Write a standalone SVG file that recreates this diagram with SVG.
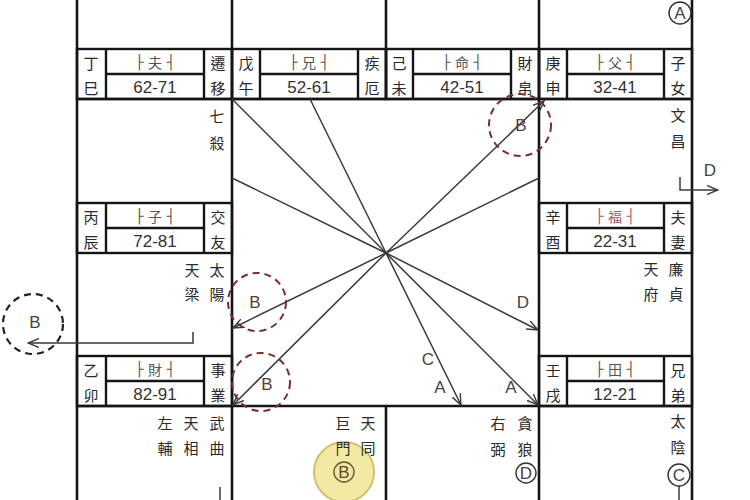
<svg xmlns="http://www.w3.org/2000/svg" width="750" height="500" viewBox="0 0 750 500">
<style>
.g{stroke:#151515;stroke-width:2.6;fill:none}
.b{stroke:#151515;stroke-width:2.4;fill:none}
.cj{font-family:"Noto Sans CJK TC","Noto Sans CJK SC",sans-serif;font-size:15px;fill:#2a2a2a;text-anchor:middle;dominant-baseline:central}
.br{font-family:"DejaVu Sans","Noto Sans CJK TC",sans-serif;font-size:14px;fill:#555;text-anchor:middle;dominant-baseline:central}
.bc{font-family:"Noto Sans CJK TC","Noto Sans CJK SC",sans-serif}
.nm{font-family:"Liberation Sans",sans-serif;font-size:17px;fill:#333;text-anchor:middle;dominant-baseline:central}
.lb{font-family:"Liberation Sans",sans-serif;font-size:17px;fill:#444;text-anchor:middle;dominant-baseline:central}
.ln{stroke:#3a3a3a;stroke-width:1.5;fill:none}
.dc{stroke:#7a3030;stroke-width:2;stroke-dasharray:7 5;fill:none}
.dk{stroke:#222;stroke-width:2.2;stroke-dasharray:7 5;fill:none}
.ci{stroke:#333;stroke-width:1.4;fill:none}
</style>
<defs>
<marker id="ah" markerWidth="12" markerHeight="10" refX="11" refY="5" orient="auto" markerUnits="userSpaceOnUse">
<path d="M0,0.5 L11,5 L0,9.5" fill="none" stroke="#3a3a3a" stroke-width="1.4"/>
</marker>
</defs>
<rect width="750" height="500" fill="#ffffff"/>

<g id="grid">
<line class="g" x1="77" y1="0" x2="77" y2="500"/>
<line class="g" x1="232" y1="0" x2="232" y2="500"/>
<line class="g" x1="539" y1="0" x2="539" y2="500"/>
<line class="g" x1="692" y1="0" x2="692" y2="500"/>
<line class="g" x1="386" y1="0" x2="386" y2="99"/>
<line class="g" x1="386" y1="406" x2="386" y2="500"/>
<line class="g" x1="77" y1="99" x2="692" y2="99"/>
<line class="g" x1="77" y1="406" x2="692" y2="406"/>
</g>

<g id="cell-siyi">
<rect class="b" x="77" y="49" width="155" height="50"/>
<line class="b" x1="106" y1="49" x2="106" y2="99"/><line class="b" x1="204" y1="49" x2="204" y2="99"/><line class="b" x1="106" y1="74" x2="204" y2="74"/>
<text class="cj" x="91" y="62">丁</text><text class="cj" x="91" y="87">巳</text>
<text class="br" x="155" y="62">├ <tspan class="bc">夫</tspan> ┤</text><text class="nm" x="155" y="87">62-71</text>
<text class="cj" x="218" y="62">遷</text><text class="cj" x="218" y="87">移</text>
</g>
<g id="cell-wuwu">
<rect class="b" x="232" y="49" width="154" height="50"/>
<line class="b" x1="260" y1="49" x2="260" y2="99"/><line class="b" x1="358" y1="49" x2="358" y2="99"/><line class="b" x1="260" y1="74" x2="358" y2="74"/>
<text class="cj" x="246" y="62">戊</text><text class="cj" x="246" y="87">午</text>
<text class="br" x="309" y="62">├ <tspan class="bc">兄</tspan> ┤</text><text class="nm" x="309" y="87">52-61</text>
<text class="cj" x="372" y="62">疾</text><text class="cj" x="372" y="87">厄</text>
</g>
<g id="cell-jiwei">
<rect class="b" x="386" y="49" width="153" height="50"/>
<line class="b" x1="413" y1="49" x2="413" y2="99"/><line class="b" x1="511" y1="49" x2="511" y2="99"/><line class="b" x1="413" y1="74" x2="511" y2="74"/>
<text class="cj" x="399" y="62">己</text><text class="cj" x="399" y="87">未</text>
<text class="br" x="462" y="62">├ <tspan class="bc">命</tspan> ┤</text><text class="nm" x="462" y="87">42-51</text>
<text class="cj" x="525" y="62">財</text><text class="cj" x="525" y="87">帛</text>
</g>
<g id="cell-gengshen">
<rect class="b" x="539" y="49" width="153" height="50"/>
<line class="b" x1="567" y1="49" x2="567" y2="99"/><line class="b" x1="664" y1="49" x2="664" y2="99"/><line class="b" x1="567" y1="74" x2="664" y2="74"/>
<text class="cj" x="553" y="62">庚</text><text class="cj" x="553" y="87">申</text>
<text class="br" x="615" y="62">├ <tspan class="bc">父</tspan> ┤</text><text class="nm" x="615" y="87">32-41</text>
<text class="cj" x="678" y="62">子</text><text class="cj" x="678" y="87">女</text>
<circle class="ci" cx="680" cy="13" r="11"/><text class="lb" x="680" y="13" font-size="15">A</text>
<text class="cj" x="678" y="114">文</text><text class="cj" x="678" y="140">昌</text>
</g>
<g id="cell-bingchen">
<text class="cj" x="217" y="115">七</text><text class="cj" x="217" y="142">殺</text>
<rect class="b" x="77" y="203" width="155" height="50"/>
<line class="b" x1="106" y1="203" x2="106" y2="253"/><line class="b" x1="204" y1="203" x2="204" y2="253"/><line class="b" x1="106" y1="228" x2="204" y2="228"/>
<text class="cj" x="91" y="216">丙</text><text class="cj" x="91" y="241">辰</text>
<text class="br" x="155" y="216">├ <tspan class="bc">子</tspan> ┤</text><text class="nm" x="155" y="241">72-81</text>
<text class="cj" x="218" y="216">交</text><text class="cj" x="218" y="241">友</text>
<text class="cj" x="192" y="269">天</text><text class="cj" x="217" y="269">太</text>
<text class="cj" x="192" y="293">梁</text><text class="cj" x="217" y="293">陽</text>
</g>
<g id="cell-xinyou">
<rect class="b" x="539" y="203" width="153" height="50"/>
<line class="b" x1="567" y1="203" x2="567" y2="253"/><line class="b" x1="664" y1="203" x2="664" y2="253"/><line class="b" x1="567" y1="228" x2="664" y2="228"/>
<text class="cj" x="553" y="216">辛</text><text class="cj" x="553" y="241">酉</text>
<text class="br" x="615" y="216" style="fill:#a05a6a">├ <tspan class="bc">福</tspan> ┤</text><text class="nm" x="615" y="241">22-31</text>
<text class="cj" x="678" y="216">夫</text><text class="cj" x="678" y="241">妻</text>
<text class="cj" x="651" y="268">天</text><text class="cj" x="676" y="268">廉</text>
<text class="cj" x="651" y="293">府</text><text class="cj" x="676" y="293">貞</text>
</g>
<g id="cell-yimao">
<rect class="b" x="77" y="356" width="155" height="50"/>
<line class="b" x1="106" y1="356" x2="106" y2="406"/><line class="b" x1="204" y1="356" x2="204" y2="406"/><line class="b" x1="106" y1="381" x2="204" y2="381"/>
<text class="cj" x="91" y="369">乙</text><text class="cj" x="91" y="394">卯</text>
<text class="br" x="155" y="369">├ <tspan class="bc">財</tspan> ┤</text><text class="nm" x="155" y="394">82-91</text>
<text class="cj" x="218" y="369">事</text><text class="cj" x="218" y="394">業</text>
</g>
<g id="cell-renxu">
<rect class="b" x="539" y="356" width="153" height="50"/>
<line class="b" x1="567" y1="356" x2="567" y2="406"/><line class="b" x1="664" y1="356" x2="664" y2="406"/><line class="b" x1="567" y1="381" x2="664" y2="381"/>
<text class="cj" x="553" y="369">壬</text><text class="cj" x="553" y="394">戌</text>
<text class="br" x="615" y="369">├ <tspan class="bc">田</tspan> ┤</text><text class="nm" x="615" y="394">12-21</text>
<text class="cj" x="678" y="369">兄</text><text class="cj" x="678" y="394">弟</text>
<text class="cj" x="678" y="420">太</text><text class="cj" x="678" y="446">陰</text>
<circle class="ci" cx="679" cy="475" r="11"/><text class="lb" x="679" y="475" font-size="15">C</text>
<line class="ln" x1="679" y1="486" x2="679" y2="500"/>
</g>
<g id="cell-yinchou">
<text class="cj" x="165" y="422">左</text><text class="cj" x="191" y="422">天</text><text class="cj" x="217" y="422">武</text>
<text class="cj" x="165" y="447">輔</text><text class="cj" x="191" y="447">相</text><text class="cj" x="217" y="447">曲</text>
<line class="ln" x1="220" y1="487" x2="220" y2="500"/>
</g>
<g id="cell-jiazi">
<circle cx="344" cy="472" r="30" fill="#efe594" fill-opacity="0.85" stroke="#cfc36a" stroke-width="2"/>
<circle cx="344" cy="472" r="10" fill="none" stroke="#6a5a30" stroke-width="1.4"/>
<text class="lb" x="344" y="472" font-size="15" style="fill:#5a4a2a">B</text>
<text class="cj" x="343" y="422">巨</text><text class="cj" x="368" y="422">天</text>
<text class="cj" x="343" y="447">門</text><text class="cj" x="368" y="447">同</text>
</g>
<g id="cell-yihai">
<text class="cj" x="498" y="422">右</text><text class="cj" x="525" y="422">貪</text>
<text class="cj" x="498" y="448">弼</text><text class="cj" x="525" y="448">狼</text>
<circle class="ci" cx="526" cy="473" r="10"/><text class="lb" x="526" y="473" font-size="15">D</text>
</g>

<g id="connectors">
<line class="ln" x1="386" y1="253" x2="232" y2="99"/>
<line class="ln" x1="386" y1="253" x2="310" y2="99"/>
<line class="ln" x1="386" y1="253" x2="232" y2="178"/>
<line class="ln" x1="386" y1="253" x2="539" y2="178"/>
<line class="ln" x1="386" y1="253" x2="544" y2="101" marker-end="url(#ah)"/>
<line class="ln" x1="386" y1="253" x2="233" y2="328" marker-end="url(#ah)"/>
<line class="ln" x1="386" y1="253" x2="233" y2="405" marker-end="url(#ah)"/>
<line class="ln" x1="386" y1="253" x2="538" y2="330" marker-end="url(#ah)"/>
<line class="ln" x1="386" y1="253" x2="538" y2="405" marker-end="url(#ah)"/>
<line class="ln" x1="386" y1="253" x2="461" y2="405" marker-end="url(#ah)"/>
<polyline class="ln" points="193,332 193,343 28,343" marker-end="url(#ah)"/>
<polyline class="ln" points="680,177 680,190 718,190" marker-end="url(#ah)"/>
</g>

<g id="labels">
<circle class="dc" cx="520" cy="125" r="31"/><text class="lb" x="521" y="125" style="fill:#5a3a3a">B</text>
<circle class="dc" cx="257" cy="302" r="29"/><text class="lb" x="255" y="302" style="fill:#5a3a3a">B</text>
<circle class="dc" cx="261" cy="382" r="29"/><text class="lb" x="267" y="384" style="fill:#5a3a3a">B</text>
<circle class="dk" cx="33" cy="324" r="30"/><text class="lb" x="35" y="322">B</text>
<text class="lb" x="710" y="170" font-size="18">D</text>
<text class="lb" x="523" y="302">D</text>
<text class="lb" x="428" y="359">C</text>
<text class="lb" x="440" y="387">A</text>
<text class="lb" x="511" y="387">A</text>
</g>
</svg>
